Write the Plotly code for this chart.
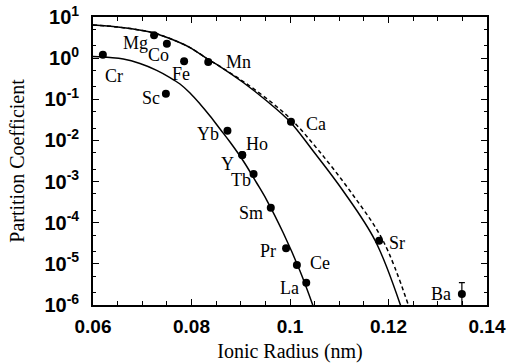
import numpy as np
import plotly.graph_objects as go

# ---- data ----
elements = ["Cr", "Mg", "Co", "Sc", "Fe", "Mn", "Yb", "Ho", "Y", "Tb",
            "Sm", "Ca", "Pr", "Ce", "La", "Sr", "Ba"]
ionic_radius = [0.0620, 0.0724, 0.0750, 0.0748, 0.0785, 0.0834, 0.0873,
                0.0903, 0.0903, 0.0926, 0.0961, 0.1002, 0.0992, 0.1014,
                0.1033, 0.1181, 0.1349]
partition = [1.21, 3.59, 2.24, 0.137, 0.838, 0.805, 0.0172, 0.00443,
             0.00443, 0.00153, 2.32e-4, 0.0285, 2.39e-5, 9.37e-6,
             3.48e-6, 3.65e-5, 1.85e-6]
ba_err_plus = [1.63e-6]
ba_err_minus = [1.2e-6]

# upper solid curve (divalent)
curve2_r = [0.0600, 0.0650, 0.0700, 0.0722, 0.0756, 0.0797, 0.0834, 0.0858,
            0.0905, 0.0953, 0.1000, 0.1047, 0.1108, 0.1173, 0.1225]
curve2_D = [6.39, 5.71, 4.70, 4.15, 3.00, 1.81, 0.927, 0.626, 0.256,
            0.0908, 0.0285, 0.00553, 5.90e-4, 3.65e-5, 9.4e-7]
# dashed curve
curveD_r = [0.0600, 0.0650, 0.0700, 0.0722, 0.0756, 0.0797, 0.0834, 0.0858,
            0.0908, 0.0959, 0.1007, 0.1059, 0.1122, 0.1189, 0.1241]
curveD_D = [6.39, 5.71, 4.70, 4.15, 3.00, 1.81, 0.927, 0.626, 0.256,
            0.0908, 0.0285, 0.00553, 5.90e-4, 3.65e-5, 9.4e-7]
# lower solid curve (trivalent)
curve3_r = [0.0600, 0.06345, 0.06615, 0.06954, 0.07293, 0.07563, 0.07766,
            0.07970, 0.08173, 0.08376, 0.08579, 0.08782, 0.09052, 0.09324,
            0.09527, 0.09864, 0.10203, 0.10473]
curve3_D = [1.096, 1.036, 0.953, 0.741, 0.506, 0.338, 0.235, 0.142, 0.0768,
            0.0392, 0.01895, 0.00915, 0.00316, 9.23e-4, 3.56e-4, 5.62e-5,
            6.70e-6, 9.18e-7]

x_ticks = [0.06, 0.08, 0.10, 0.12, 0.14]
x_ticktext = ["0.06", "0.08", "0.1", "0.12", "0.14"]
y_exps = [1, 0, -1, -2, -3, -4, -5, -6]

# ---- label placement (pixel offsets from each dot) ----
label_shift = {
    "Mg": (-19, -8), "Co": (-8, -11), "Fe": (-3, -13), "Mn": (30, 0),
    "Cr": (11, -21), "Sc": (-15, -4), "Yb": (-19, -3), "Ho": (15, 11),
    "Y": (-15, -9), "Tb": (-13, -6), "Sm": (-20, -5), "Pr": (-18, -3),
    "Ce": (23, 2), "La": (-17, -5), "Ca": (25, -2), "Sr": (18, -2),
    "Ba": (-21, 0),
}

serif = "Liberation Serif, Times New Roman, serif"
sans = "Liberation Sans, Arial, sans-serif"

fig = go.Figure()
fig.add_trace(go.Scatter(x=curve2_r, y=curve2_D, mode="lines",
                         line=dict(color="black", width=1.5, shape="spline"),
                         showlegend=False, hoverinfo="skip"))
fig.add_trace(go.Scatter(x=curveD_r, y=curveD_D, mode="lines",
                         line=dict(color="black", width=1.5, shape="spline",
                                   dash="4px,3px"),
                         showlegend=False, hoverinfo="skip"))
fig.add_trace(go.Scatter(x=curve3_r, y=curve3_D, mode="lines",
                         line=dict(color="black", width=1.5, shape="spline"),
                         showlegend=False, hoverinfo="skip"))

# points (all but Ba)
fig.add_trace(go.Scatter(x=ionic_radius[:-1], y=partition[:-1], mode="markers",
                         marker=dict(color="black", size=8),
                         showlegend=False))
# Ba with error bar
fig.add_trace(go.Scatter(x=ionic_radius[-1:], y=partition[-1:], mode="markers",
                         marker=dict(color="black", size=8),
                         error_y=dict(type="data", array=ba_err_plus,
                                      arrayminus=ba_err_minus, color="black",
                                      thickness=1.2, width=3),
                         showlegend=False))

for el, r, d in zip(elements, ionic_radius, partition):
    dx, dy = label_shift[el]
    fig.add_annotation(x=r, y=np.log10(d), text=el, showarrow=False,
                       xshift=dx, yshift=dy,
                       font=dict(family=serif, size=18, color="black"))

fig.update_layout(
    width=509, height=364,
    margin=dict(l=93, r=22, t=17, b=59),
    paper_bgcolor="white", plot_bgcolor="white",
    showlegend=False,
)
fig.update_xaxes(
    range=[0.06, 0.14], tickvals=x_ticks, ticktext=x_ticktext,
    automargin=False,
    ticks="inside", ticklen=6, tickwidth=1.2, tickcolor="black",
    minor=dict(dtick=0.005, tick0=0.06, ticks="inside", ticklen=4,
               tickcolor="black", tickwidth=1),
    showline=True, linecolor="black", linewidth=1.8, mirror="ticks",
    showgrid=False, zeroline=False,
    tickfont=dict(family=sans, size=19, color="black", weight="bold"),
    ticklabelstandoff=3,
    title=dict(text="Ionic Radius (nm)", standoff=8,
               font=dict(family=serif, size=20, color="black")),
)
fig.update_yaxes(
    type="log", range=[-6, 1],
    automargin=False,
    tickvals=[10.0 ** e for e in y_exps],
    ticktext=["10<sup>%d</sup>" % e for e in y_exps],
    ticks="inside", ticklen=6, tickwidth=1.2, tickcolor="black",
    minor=dict(ticks="inside", ticklen=3, tickcolor="black", tickwidth=1),
    showline=True, linecolor="black", linewidth=1.8, mirror="ticks",
    showgrid=False, zeroline=False,
    tickfont=dict(family=sans, size=20, color="black", weight="bold"),
    ticklabelstandoff=8,
    title=dict(text="Partition Coefficient", standoff=14,
               font=dict(family=serif, size=20, color="black")),
)

# remove the default page margin so the figure sits at the window origin
fig.write_html("out.html",
               config={"displayModeBar": False},
               post_script="document.body.style.margin='0';"
                           "document.documentElement.style.overflow='hidden';")
